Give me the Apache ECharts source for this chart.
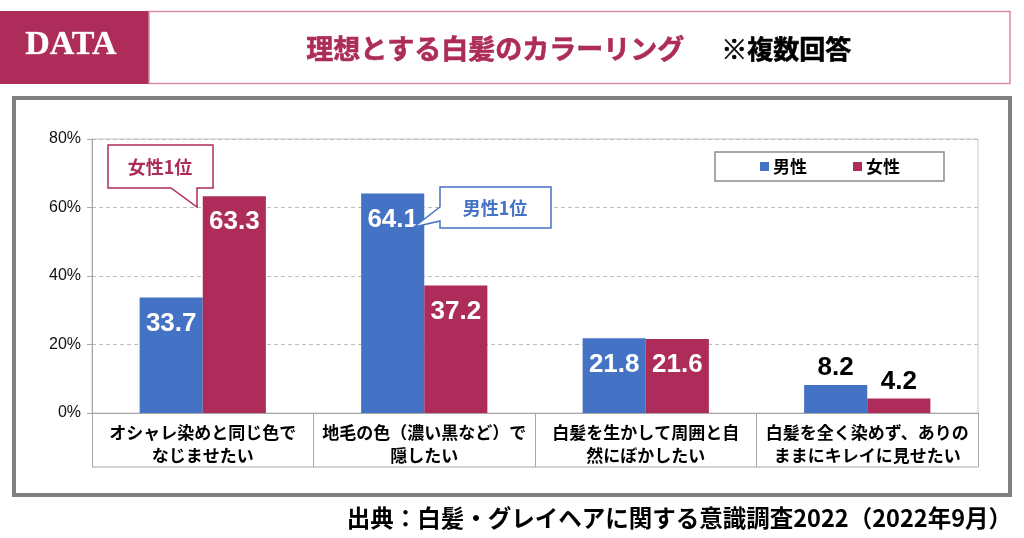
<!DOCTYPE html>
<html><head><meta charset="utf-8">
<script src="https://cdn.jsdelivr.net/npm/echarts@6/dist/echarts.min.js"></script>
<style>html,body{margin:0;padding:0;background:#fff}#c{width:1024px;height:538px}</style>
</head><body><div id="c"></div>
<script>
const categories = [
  'オシャレ染めと同じ色で\nなじませたい',
  '地毛の色（濃い黒など）で\n隠したい',
  '白髪を生かして周囲と自\n然にぼかしたい',
  '白髪を全く染めず、ありの\nままにキレイに見せたい'
];
const maleValues = [33.7, 64.1, 21.8, 8.2];
const femaleValues = [63.3, 37.2, 21.6, 4.2];
const seriesNames = ['男性', '女性'];
const yTicks = [0, 20, 40, 60, 80];

const BLUE = '#4472C4', RED = '#AD2C5A';
const JP = '"Noto Sans CJK JP", sans-serif';
const NUM = '"Liberation Sans", Arial, sans-serif';

function dataWithLabels(vals) {
  return vals.map(v => {
    const inside = v >= 15;
    return {
      value: v,
      label: inside ? {position: 'insideTop', distance: 13, color: '#fff'}
                    : {position: 'top', distance: 4, color: '#000'}
    };
  });
}

const chart = echarts.init(document.getElementById('c'));
chart.setOption({
  animation: false,
  backgroundColor: '#fff',
  grid: {left: 92, right: 46, top: 139, bottom: 125, show: true, borderColor: '#C8C8C8', borderWidth: 1, backgroundColor: 'transparent'},
  legend: {
    data: seriesNames, left: 715, top: 152, padding: [6, 44, 6, 45],
    borderColor: '#8C8C8C', borderWidth: 1.5, icon: 'rect', itemWidth: 9, itemHeight: 9, itemGap: 46,
    textStyle: {fontFamily: JP, fontWeight: 'bold', fontSize: 17, color: '#000', padding: [0,0,0,-1]}
  },
  xAxis: {
    type: 'category', data: categories,
    axisLine: {lineStyle: {color: '#A6A6A6', width: 1}},
    axisTick: {show: true, length: 54, alignWithLabel: false, lineStyle: {color: '#A6A6A6'}},
    axisLabel: {interval: 0, margin: 8, fontFamily: JP, fontWeight: 'bold', fontSize: 17, lineHeight: 23, color: '#000'}
  },
  yAxis: {
    type: 'value', min: yTicks[0], max: yTicks[yTicks.length - 1], interval: 20,
    axisLine: {show: true, lineStyle: {color: '#A6A6A6'}},
    axisTick: {show: true, length: 5, lineStyle: {color: '#A6A6A6'}},
    axisLabel: {formatter: '{value}%', fontFamily: NUM, fontSize: 16, color: '#111', margin: 11},
    splitLine: {lineStyle: {color: '#BDBDBD', type: [4, 3]}}
  },
  series: [
    {name: seriesNames[0], type: 'bar', data: dataWithLabels(maleValues), barGap: '0%', barCategoryGap: '43%',
     itemStyle: {color: BLUE},
     label: {show: true, fontFamily: NUM, fontWeight: 'bold', fontSize: 26}},
    {name: seriesNames[1], type: 'bar', data: dataWithLabels(femaleValues),
     itemStyle: {color: RED},
     label: {show: true, fontFamily: NUM, fontWeight: 'bold', fontSize: 26}}
  ],
  graphic: [
    // header
    {type: 'rect', shape: {x: 0, y: 11, width: 149, height: 73}, style: {fill: RED}, z: 1},
    {type: 'rect', shape: {x: 149, y: 11.5, width: 861, height: 72}, style: {fill: '#fff', stroke: '#D98AA6', lineWidth: 1.5}, z: 1},
    {type: 'text', left: 25, top: 28, style: {text: 'DATA', fill: '#fff', font: 'bold 34px "Liberation Serif", "DejaVu Serif", serif', stroke: '#E8B8C8', lineWidth: 0.5}, z: 2},
    {type: 'text', left: 306, top: 35, style: {text: '理想とする白髪のカラーリング', fill: RED, font: 'bold 27px ' + JP, stroke: RED, lineWidth: 0.6}, z: 2},
    {type: 'text', left: 721, top: 36, style: {text: '※複数回答', fill: '#000', font: 'bold 26px ' + JP, stroke: '#000', lineWidth: 0.6}, z: 2},
    // outer frame
    {type: 'rect', shape: {x: 14, y: 98, width: 996, height: 397}, style: {fill: 'none', stroke: '#808080', lineWidth: 4}, z: 1},
    // table bottom line
    {type: 'line', shape: {x1: 92, y1: 467, x2: 978, y2: 467}, style: {stroke: '#A6A6A6', lineWidth: 1}, z: 3},
    // callout female
    {type: 'polygon', shape: {points: [[108,145],[213,145],[213,188],[197,188],[197,207],[171,188],[108,188]]},
     style: {fill: '#fff', stroke: RED, lineWidth: 1.5}, z: 10},
    {type: 'text', x: 160, y: 167, style: {text: '女性1位', fill: RED, font: 'bold 18px ' + JP, textAlign: 'center', textVerticalAlign: 'middle'}, z: 11},
    // callout male
    {type: 'polygon', shape: {points: [[440,187],[551,187],[551,228],[440,228],[440,221],[414,227],[440,207]]},
     style: {fill: '#fff', stroke: BLUE, lineWidth: 1.5}, z: 10},
    {type: 'text', x: 495, y: 208, style: {text: '男性1位', fill: BLUE, font: 'bold 18px ' + JP, textAlign: 'center', textVerticalAlign: 'middle'}, z: 11},
    // footer
    {type: 'text', right: 12, top: 506, style: {text: '出典：白髪・グレイヘアに関する意識調査2022（2022年9月）', fill: '#000', font: 'bold 23.5px ' + JP}, z: 2}
  ]
});
</script></body></html>
